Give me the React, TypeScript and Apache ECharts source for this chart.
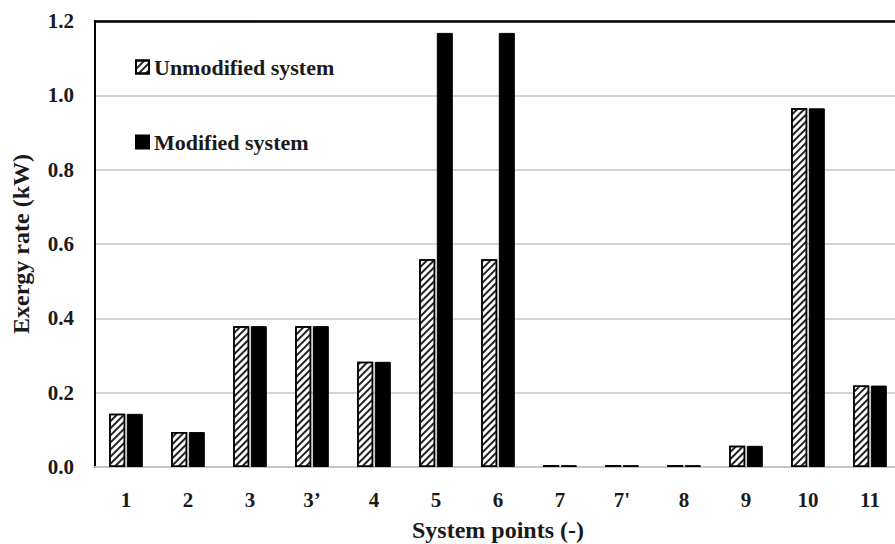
import React, { useEffect, useRef } from "react";
import * as echarts from "echarts";

const categories = ["1", "2", "3", "3’", "4", "5", "6", "7", "7'", "8", "9", "10", "11"];
const unmodified = [0.143, 0.094, 0.379, 0.379, 0.283, 0.559, 0.559, 0.005, 0.005, 0.005, 0.057, 0.965, 0.219];
const modified = [0.143, 0.094, 0.379, 0.379, 0.283, 1.168, 1.168, 0.005, 0.005, 0.005, 0.057, 0.965, 0.219];
const seriesNames = ["Unmodified system", "Modified system"];

const FONT = "'Liberation Serif', 'Times New Roman', serif";
const TXT = "#1a1a1a";

export default function App() {
  const ref = useRef<HTMLDivElement>(null);
  useEffect(() => {
    if (!ref.current) return;
    const chart = echarts.init(ref.current, null, { renderer: "svg" });
    chart.setOption({
      animation: false,
      backgroundColor: "#ffffff",
      grid: { left: 95, right: -6, top: 21, bottom: 77, containLabel: false, outerBoundsMode: "none" },
      legend: {
        orient: "vertical",
        left: 130,
        top: 51,
        itemWidth: 13,
        itemHeight: 13,
        itemGap: 53,
        icon: "rect",
        textStyle: { fontFamily: FONT, fontWeight: "bold", fontSize: 22, color: TXT },
        data: seriesNames,
      },
      xAxis: [
        {
          type: "category",
          data: categories,
          axisLine: { show: true, lineStyle: { color: "#c6c6c6", width: 2 } },
          axisTick: { show: false },
          axisLabel: { fontFamily: FONT, fontWeight: "bold", fontSize: 21, color: TXT, margin: 22 },
          name: "System points (-)",
          nameLocation: "middle",
          nameGap: 51,
          nameTextStyle: { fontFamily: FONT, fontWeight: "bold", fontSize: 24, color: TXT },
        },
        {
          type: "category",
          data: categories,
          position: "top",
          axisLine: { show: true, lineStyle: { color: "#000", width: 2.5 } },
          axisTick: { show: false },
          axisLabel: { show: false },
        },
      ],
      yAxis: {
        type: "value",
        min: 0,
        max: 1.2,
        interval: 0.2,
        axisLine: { show: true, lineStyle: { color: "#000", width: 2 } },
        axisTick: { show: false },
        splitLine: { lineStyle: { color: "#d4d4d4", width: 2 } },
        axisLabel: {
          fontFamily: FONT,
          fontWeight: "bold",
          fontSize: 21,
          color: TXT,
          margin: 21,
          formatter: (v: number) => v.toFixed(1),
        },
        name: "Exergy rate (kW)",
        nameLocation: "middle",
        nameGap: 62,
        nameTextStyle: { fontFamily: FONT, fontWeight: "bold", fontSize: 24, color: TXT },
      },
      series: [
        {
          name: seriesNames[0],
          type: "bar",
          data: unmodified,
          barWidth: 16,
          barGap: "10%",
          itemStyle: {
            color: "#ffffff",
            borderColor: "#000",
            borderWidth: 1.5,
            decal: {
              symbol: "rect",
              color: "#222",
              dashArrayX: [1, 0],
              dashArrayY: [2, 3],
              rotation: -Math.PI / 4,
            },
          },
        },
        {
          name: seriesNames[1],
          type: "bar",
          data: modified,
          barWidth: 16,
          itemStyle: { color: "#000000", borderColor: "#000", borderWidth: 1 },
        },
      ],
    });
    return () => chart.dispose();
  }, []);
  return <div ref={ref} style={{ width: 895, height: 544, position: "fixed", left: 0, top: 0 }} />;
}
